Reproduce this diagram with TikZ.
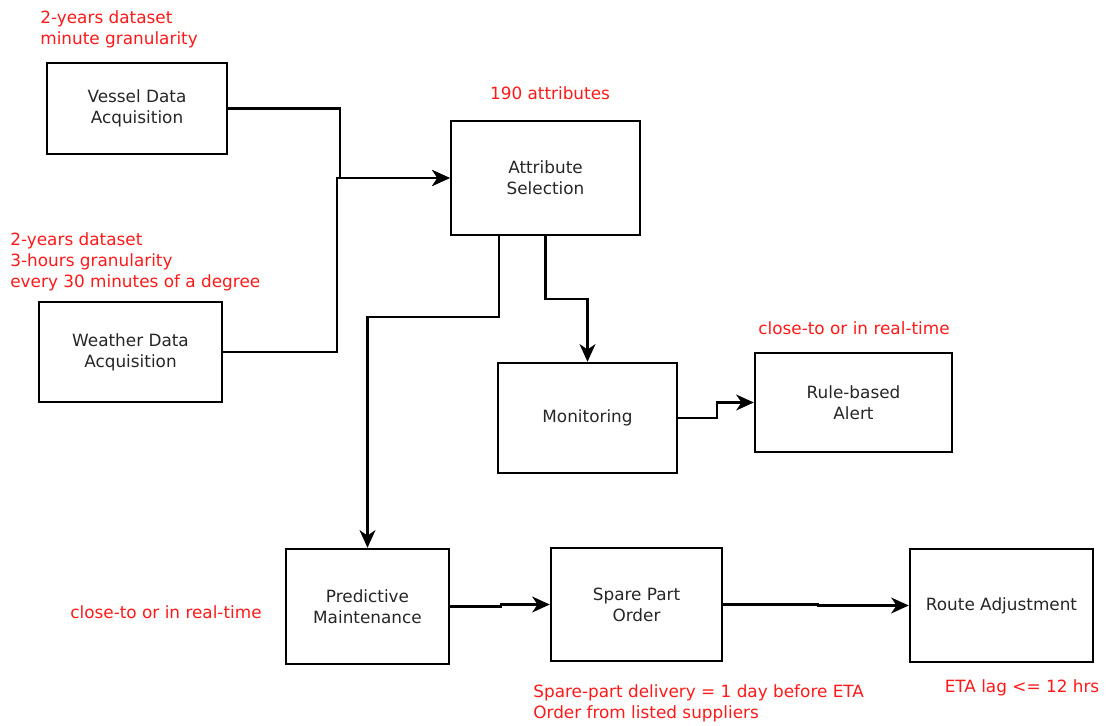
\documentclass[tikz,border=0pt]{standalone}
\usepackage{fontspec}
\setmainfont{DejaVu Sans}
\usepackage{tikz}
\usetikzlibrary{shapes,arrows.meta,positioning,calc}

\begin{document}
\begin{tikzpicture}[x=0.02cm, y=-0.02cm,
  box/.style={draw, rectangle, line width=1.4pt, align=center, text=black!85, font=\fontsize{9.6}{12}\selectfont},
  note/.style={text=red!90!white, inner sep=0pt, font=\fontsize{9.6}{12}\selectfont},
  link/.style={line width=1.4pt, -{Stealth[length=10pt,width=9pt,inset=3pt]}}]
\useasboundingbox (0,0) rectangle (1106,726);

% process boxes
\node[box, minimum width=3.6cm, minimum height=1.82cm] (vessel) at (137,108.5) {Vessel Data\\Acquisition};
\node[box, minimum width=3.66cm, minimum height=2cm] (weather) at (130.5,352) {Weather Data\\Acquisition};
\node[box, minimum width=3.78cm, minimum height=2.28cm] (attr) at (545.5,178) {Attribute\\Selection};
\node[box, minimum width=3.58cm, minimum height=2.2cm] (mon) at (587.5,418) {Monitoring};
\node[box, minimum width=3.94cm, minimum height=1.98cm] (alert) at (853.5,402.5) {Rule-based\\Alert};
\node[box, minimum width=3.26cm, minimum height=2.3cm] (pred) at (367.5,606.5) {Predictive\\Maintenance};
\node[box, minimum width=3.42cm, minimum height=2.26cm] (spare) at (636.5,604.5) {Spare Part\\Order};
\node[box, minimum width=3.66cm, minimum height=2.26cm] (route) at (1001.5,605.5) {Route Adjustment};

% red annotations
\node[note, anchor=north west, align=left] (vnote) at (40,10) {2-years dataset\\minute granularity};
\node[note, anchor=north] (anote) at (550,86) {190 attributes};
\node[note, anchor=north west, align=left] (wnote) at (10,232) {2-years dataset\\3-hours granularity\\every 30 minutes of a degree};
\node[note, anchor=north] (rnote) at (854,321) {close-to or in real-time};
\node[note, anchor=north] (pnote) at (166,605) {close-to or in real-time};
\node[note, anchor=north west, align=left] (snote) at (533,684) {Spare-part delivery = 1 day before ETA\\Order from listed suppliers};
\node[note, anchor=north] (enote) at (1022,679) {ETA lag <= 12 hrs};

% connectors
\draw[link] (vessel.east) -- ++(112,0) |- (attr.west);
\draw[link] (weather.east) -- ++(114,0) |- (attr.west);
\draw[link] ([xshift=-0.93cm]attr.south) -- ++(0,81) -| (pred.north);
\draw[link] (attr.south) -- ++(0,63) -| (mon.north);
\draw[link] (mon.east) -- ++(39,0) |- (alert.west);
\draw[link] (pred.east) -- ++(51,0) |- (spare.west);
\draw[link] (spare.east) -- ++(95,0) |- (route.west);
\end{tikzpicture}
\end{document}
